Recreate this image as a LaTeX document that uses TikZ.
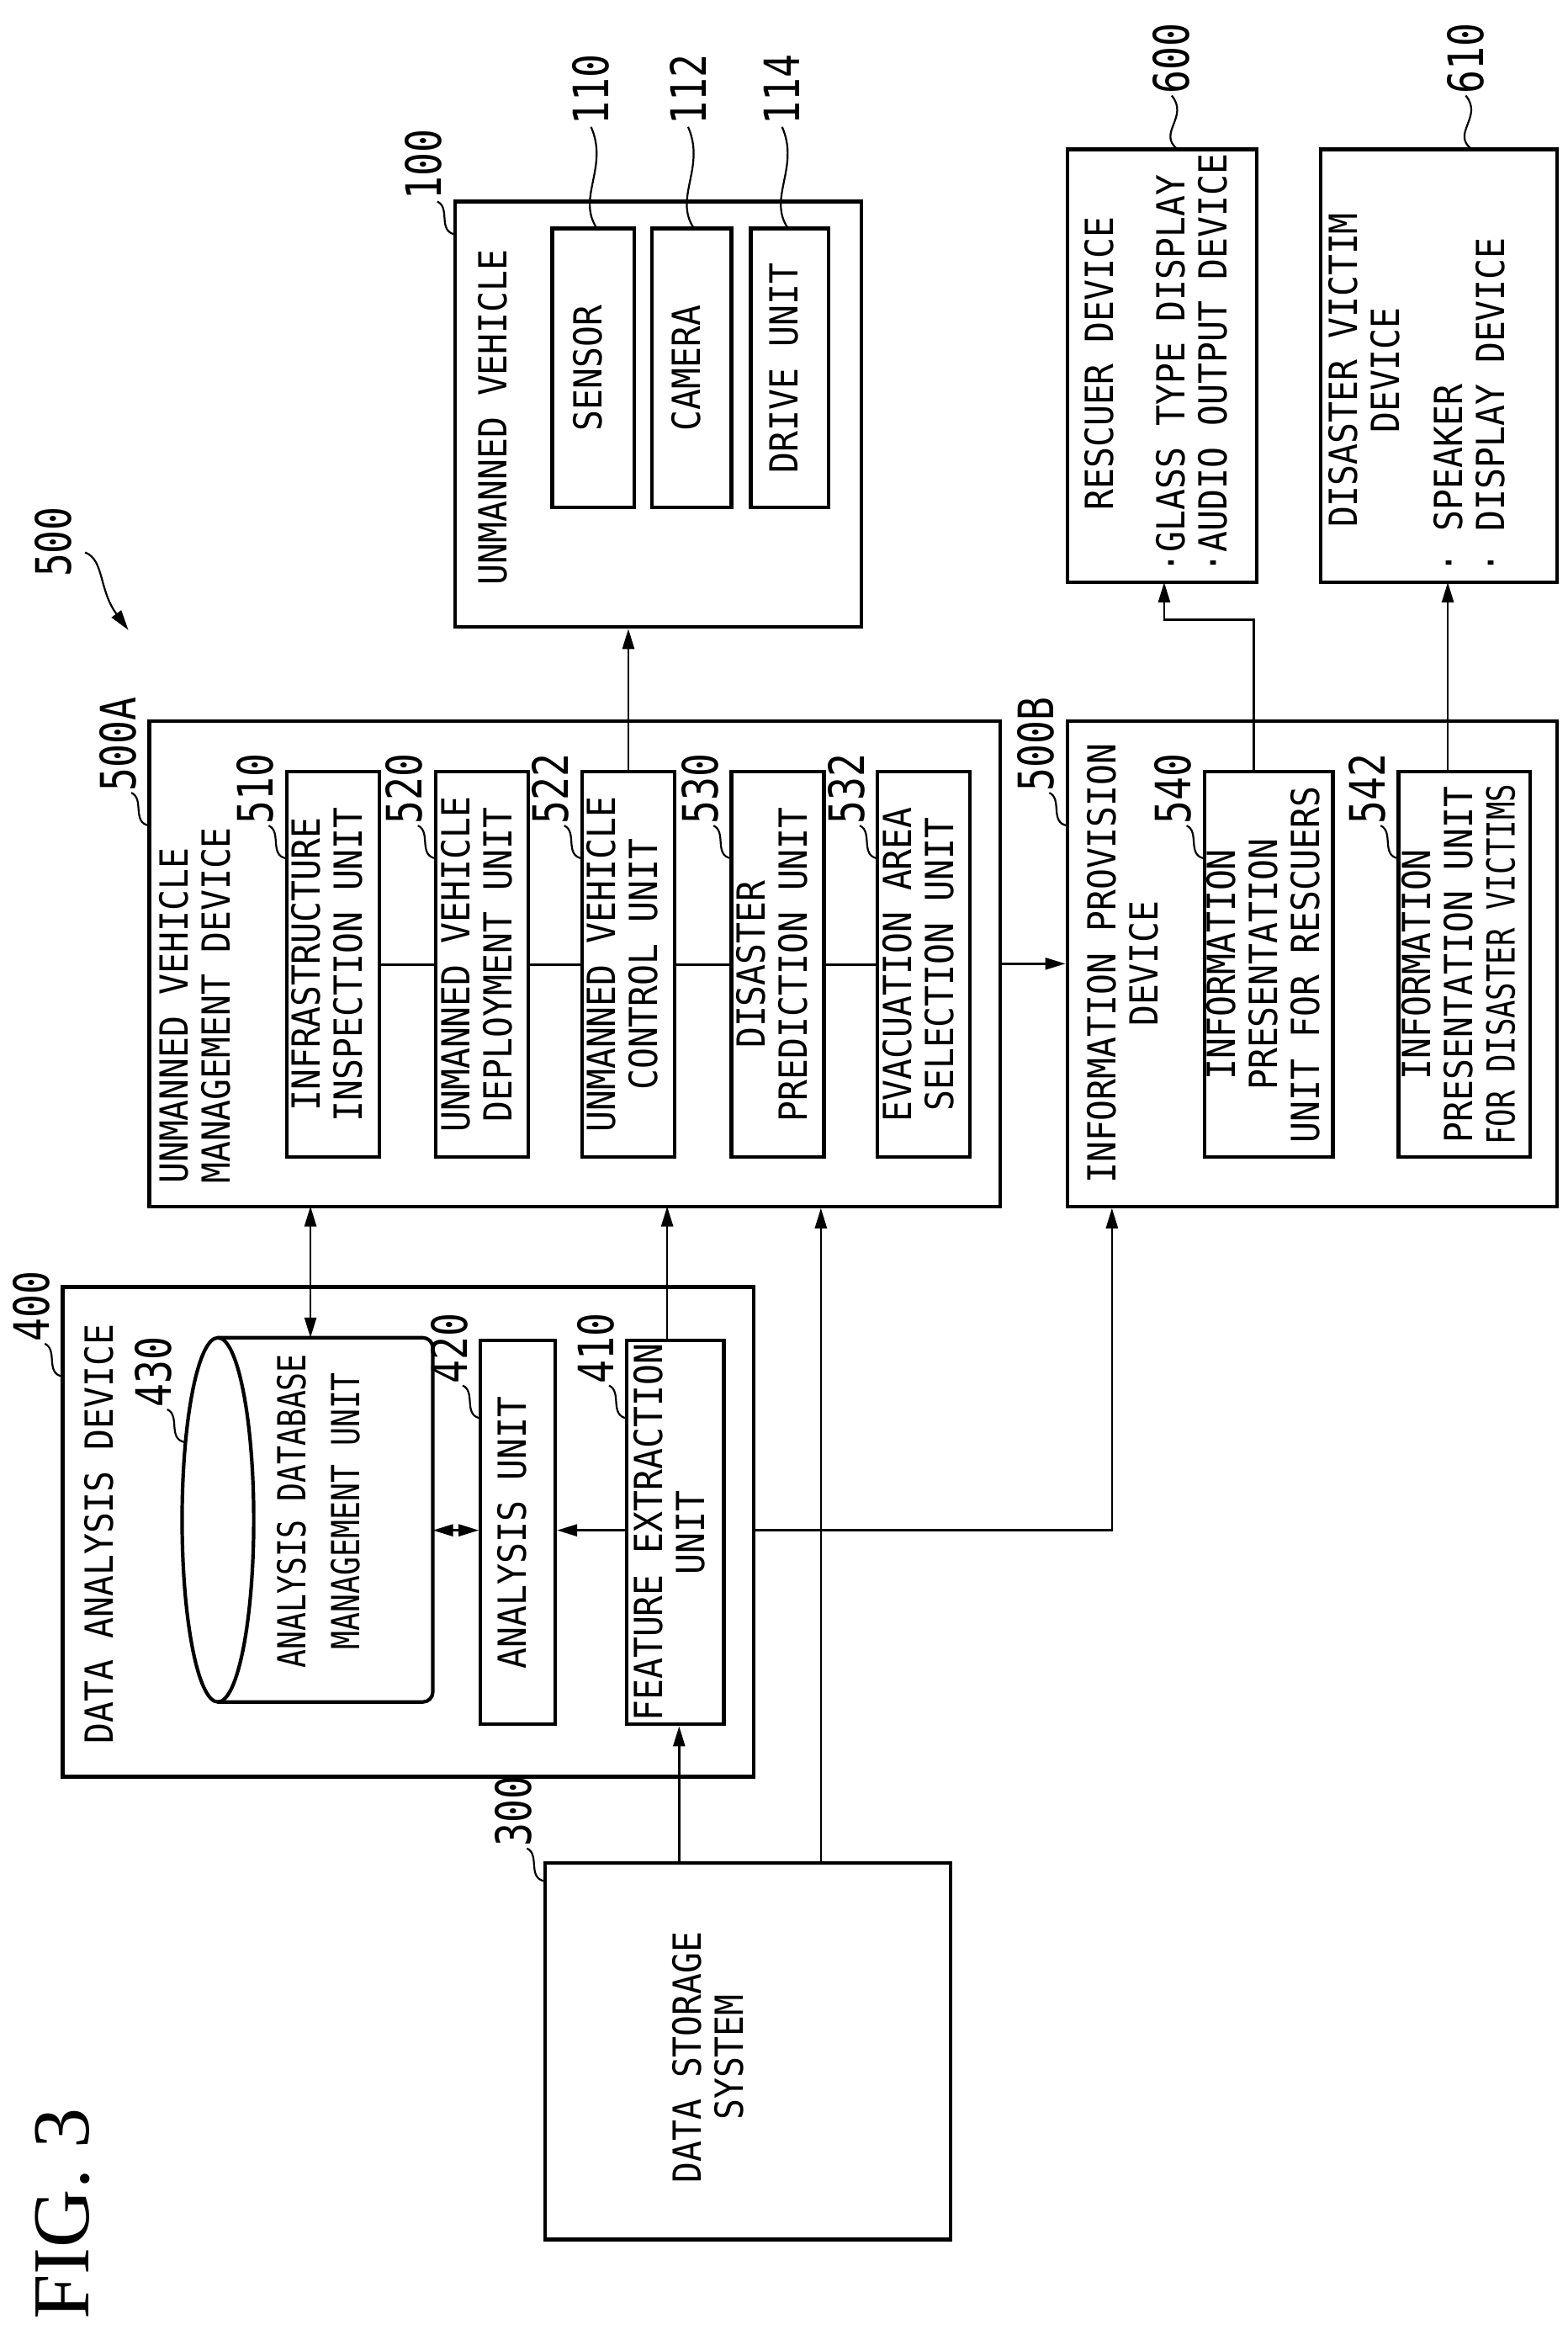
\documentclass[tikz,border=0pt]{standalone}
\usepackage{fontspec}
\setmonofont[FakeStretch=0.9]{DejaVu Sans Mono}
\newfontfamily\numfont[FakeStretch=0.8]{DejaVu Sans Mono}
\newfontfamily\figfont{Liberation Serif}
\usetikzlibrary{arrows.meta}
\def\ux{1.774pt}
\newcommand\rt[1]{\rotatebox{90}{\begin{tabular}{@{}c@{}}#1\end{tabular}}}
\newcommand\rtl[1]{\rotatebox{90}{\begin{tabular}{@{}l@{}}#1\end{tabular}}}
\newcommand\bx[6]{\node[box,minimum width={(#4-#2)*\ux},minimum height={(#5-#3)*\ux}] (#1) at ({(#2+#4)/2},{(#3+#5)/2}) {#6};}
% left-side reference label: L, T, touch offset, text
\newcommand\llab[4]{\draw[thin line] (#1,#2+#3) .. controls (#1-12,#2+#3-2) and (#1-3,#2+#3-18) .. (#1-12,#2+#3-22) node[num,anchor=south east,xshift=8pt] {\rotatebox{90}{#4}};}
% top reference label: x, T, length, text
\newcommand\tlab[4]{\draw[thin line] (#1,#2) .. controls (#1-14,#2-#3*0.3) and (#1+8,#2-#3*0.6) .. (#1-4,#2-#3) node[num,anchor=south] {\rotatebox{90}{#4}};}
\begin{document}
\begin{tikzpicture}[x=\ux,y=-\ux,
  box/.style={draw,line width=4.2pt,inner sep=0pt,font=\ttfamily\fontsize{46}{50}\selectfont},
  txt/.style={inner sep=0pt,font=\ttfamily\fontsize{46}{50}\selectfont},
  num/.style={inner sep=1pt,font=\numfont\fontsize{58}{60}\selectfont},
  thin line/.style={line width=2.2pt},
  conn/.style={line width=2.6pt},
  >={Triangle[length=24pt,width=14pt]}]
\useasboundingbox (0,0) rectangle (1050,1564);

% FIG. 3
\node[inner sep=0pt,font=\figfont\fontsize{96}{100}\selectfont] (fig) at (42,1483) {\rotatebox{90}{FIG.\ 3}};

% ---- 300 ----
\bx{v300}{365}{1248}{637}{1500}{}
\node[txt] (t300) at (478,1378) {\rt{DATA STORAGE\\SYSTEM}};
\llab{365}{1248}{12}{300}

% ---- 400 ----
\bx{v400}{42}{862}{505}{1190}{}
\node[txt,anchor=south west] (t400) at (56,1168) {\rtl{DATA ANALYSIS DEVICE}};
\llab{42}{862}{60}{400}
% cylinder 430
\node[inner sep=0pt,minimum width={168*\ux},minimum height={244*\ux}] (v430) at (206,1018) {};
\draw[line width=4.2pt,rounded corners=12pt] (146,896) -- (290,896) -- (290,1140) -- (146,1140);
\draw[line width=4.2pt] (146,1018) ellipse [x radius=24, y radius=122];
\node[txt] (t430) at (217,1012) {\rotatebox{90}{\scalebox{0.88}[1]{\begin{tabular}{@{}c@{}}ANALYSIS DATABASE\\[14pt]MANAGEMENT UNIT\end{tabular}}}};
\llab{124}{896}{70}{430}
\bx{v420}{322}{898}{372}{1155}{\rt{ANALYSIS UNIT}}
\llab{322}{898}{52}{420}
\bx{v410}{420}{898}{485}{1155}{\rt{FEATURE EXTRACTION\\UNIT}}
\llab{420}{898}{52}{410}

% ---- 500A ----
\bx{v500A}{100}{483}{670}{808}{}
\node[txt,anchor=south west] (t500A) at (106,793) {\rtl{UNMANNED VEHICLE\\MANAGEMENT DEVICE}};
\llab{100}{483}{70}{500A}
\bx{u510}{192}{517}{254}{775}{\rt{INFRASTRUCTURE\\INSPECTION UNIT}}
\bx{u520}{292}{517}{354}{775}{\rt{UNMANNED VEHICLE\\DEPLOYMENT UNIT}}
\bx{u522}{390}{517}{452}{775}{\rt{UNMANNED VEHICLE\\CONTROL UNIT}}
\bx{u530}{490}{517}{552}{775}{\rt{DISASTER\\PREDICTION UNIT}}
\bx{u532}{588}{517}{650}{775}{\rt{EVACUATION AREA\\SELECTION UNIT}}
\llab{192}{517}{58}{510}
\llab{292}{517}{58}{520}
\llab{390}{517}{58}{522}
\llab{490}{517}{58}{530}
\llab{588}{517}{58}{532}

% ---- 500B ----
\bx{v500B}{715}{483}{1043}{808}{}
\node[txt,anchor=south west] (t500B) at (728,793) {\rt{INFORMATION PROVISION\\DEVICE}};
\llab{715}{483}{70}{500B}
\bx{u540}{807}{517}{893}{775}{\rt{INFORMATION\\PRESENTATION\\UNIT FOR RESCUERS}}
\bx{u542}{937}{517}{1025}{775}{\rt{INFORMATION\\PRESENTATION UNIT\\\scalebox{0.86}[1]{FOR DISASTER VICTIMS}}}
\llab{807}{517}{58}{540}
\llab{937}{517}{58}{542}

% ---- 100 ----
\bx{v100}{305}{135}{577}{420}{}
\node[txt,anchor=south west] (t100) at (320,392) {\rtl{UNMANNED VEHICLE}};
\llab{305}{135}{22}{100}
\bx{u110}{370}{153}{425}{340}{\rt{SENSOR}}
\bx{u112}{437}{153}{490}{340}{\rt{CAMERA}}
\bx{u114}{503}{153}{555}{340}{\rt{DRIVE UNIT}}
\tlab{400}{153}{68}{110}
\tlab{465}{153}{68}{112}
\tlab{528}{153}{68}{114}

% ---- 600 / 610 ----
\bx{v600}{715}{100}{842}{390}{}
\node[txt,anchor=south west] (t600a) at (726,342) {\rtl{RESCUER DEVICE}};
\node[txt,anchor=south west] (t600b) at (774,384) {\rtl{·GLASS TYPE DISPLAY\\·AUDIO OUTPUT DEVICE}};
\tlab{789}{100}{36}{600}
\bx{v610}{885}{100}{1043}{390}{}
\node[txt] (t610a) at (918,248) {\rt{DISASTER VICTIM\\DEVICE}};
\node[txt,anchor=south west] (t610b) at (960,384) {\rtl{· SPEAKER\\· DISPLAY DEVICE}};
\tlab{986}{100}{36}{610}

% ---- 500 ----
\node[num] (n500) at (36,363) {\rotatebox{90}{500}};
\draw[thin line,->] (57,370) .. controls (70,375) and (66,395) .. (86,422);

% ---- connectors ----
\draw[conn] (u510.east) -- (u520.west) (u520.east) -- (u522.west) (u522.east) -- (u530.west) (u530.east) -- (u532.west);
\draw[conn,->] (v500A.east) -- (v500B.west);
\draw[conn,->] (u522.north) -- (u522.north |- v100.south);
\coordinate (k540) at (840,415);
\draw[conn,->] (u540.north -| k540) -- (k540) -- (780,415) -- (780,390);
\draw[conn,->] (u542.north -| 970,0) -- (970,390);
\coordinate (s1) at (455,1248);
\coordinate (s2) at (550,1248);
\draw[conn,->] (s1) -- (s1 |- v410.south);
\draw[conn,->] (s2) -- (s2 |- v500A.south);
\draw[conn,->] (447,898) -- (447,808);
\draw[conn,<->] (208,896) -- (208,808);
\draw[conn,->] (v410.west |- 0,1025) -- (v420.east |- 0,1025);
\draw[conn,<->] (290,1025) -- (v420.west |- 0,1025);
\coordinate (k500B) at (745,1025);
\draw[conn,->] (v400.east |- k500B) -- (k500B) -- (k500B |- v500B.south);
\end{tikzpicture}
\end{document}
